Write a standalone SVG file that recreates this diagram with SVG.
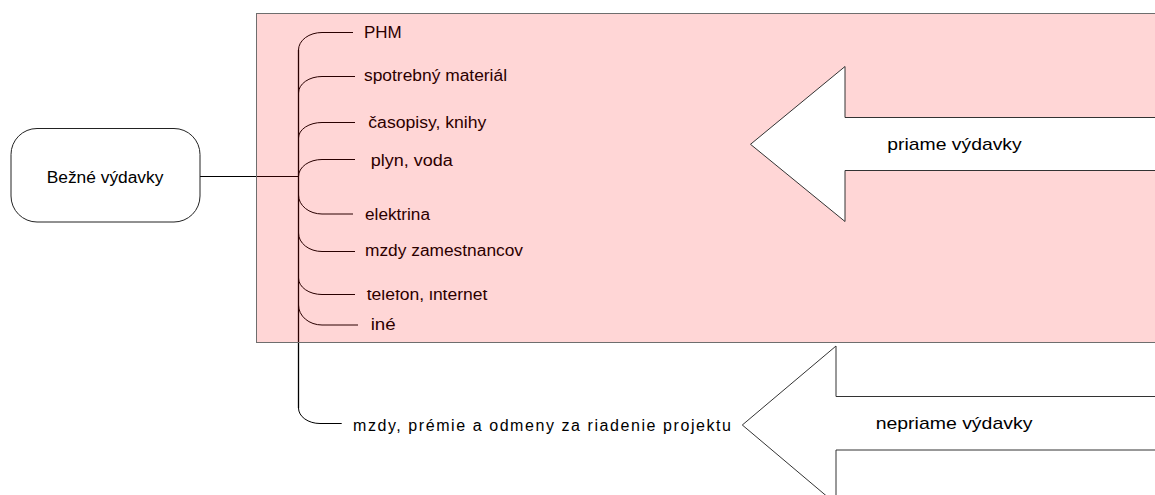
<svg xmlns="http://www.w3.org/2000/svg" width="1155" height="495" viewBox="0 0 1155 495">
  <style>
    .t { font-family: "Liberation Sans", Arial, sans-serif; font-size: 16px; fill: #000; }
    .ta { font-family: "Liberation Sans", Arial, sans-serif; font-size: 17px; fill: #000; }
    .c { fill: none; stroke: #000; stroke-width: 1; }
    .trunk { fill: none; stroke: #000; stroke-width: 1.3; }
    .arrow { fill: #fff; stroke: #333; stroke-width: 1; }
  </style>
  <defs>
    <clipPath id="clipTel">
      <rect x="360" y="290" width="140" height="20"/>
    </clipPath>
  </defs>
  <rect width="1155" height="495" fill="#fff"/>

  <g id="connectors">
    <line class="c" x1="200" y1="176.5" x2="298.5" y2="176.5"/>
    <line class="trunk" x1="298.5" y1="50" x2="298.5" y2="408"/>
    <path class="c" d="M298.5 50 A23.5 17.5 0 0 1 322 32.5 L353 32.5"/>
    <path class="c" d="M298.5 93 A23.5 16.5 0 0 1 322 76.5 L355 76.5"/>
    <path class="c" d="M298.5 138 A23.5 15.5 0 0 1 322 122.5 L355 122.5"/>
    <path class="c" d="M298.5 176.5 A23.5 17 0 0 1 322 159.5 L355 159.5"/>
    <path class="c" d="M298.5 195 A23.5 19 0 0 0 322 214 L353 214"/>
    <path class="c" d="M298.5 233 A23.5 18.5 0 0 0 322 251.5 L355 251.5"/>
    <path class="c" d="M298.5 278 A23.5 16.5 0 0 0 322 294.5 L355 294.5"/>
    <path class="c" d="M298.5 305 A23.5 20 0 0 0 322 325 L358 325"/>
    <path class="c" d="M298.5 408 A21.5 15.5 0 0 0 320 423.5 L341.7 423.5"/>
  </g>

  <g id="node-bezne">
    <rect x="11" y="128.5" width="189" height="93.5" rx="26" ry="26" fill="#fff" stroke="#222" stroke-width="1"/>
    <text class="t" x="46.7" y="182.7" textLength="116.7" lengthAdjust="spacingAndGlyphs">Bežné výdavky</text>
  </g>
  <g id="node-phm"><text class="t" x="364" y="37.7" textLength="37.7" lengthAdjust="spacingAndGlyphs">PHM</text></g>
  <g id="node-spotrebny"><text class="t" x="364" y="81.3" textLength="143" lengthAdjust="spacingAndGlyphs">spotrebný materiál</text></g>
  <g id="node-casopisy"><text class="t" x="368.3" y="128" textLength="118" lengthAdjust="spacingAndGlyphs">časopisy, knihy</text></g>
  <g id="node-plyn"><text class="t" x="370.7" y="165.7" textLength="82" lengthAdjust="spacingAndGlyphs">plyn, voda</text></g>
  <g id="node-elektrina"><text class="t" x="365" y="220" textLength="65" lengthAdjust="spacingAndGlyphs">elektrina</text></g>
  <g id="node-mzdy-zam"><text class="t" x="365" y="255.7" textLength="158" lengthAdjust="spacingAndGlyphs">mzdy zamestnancov</text></g>
  <g id="node-telefon"><text class="t" x="366.7" y="300" textLength="120.7" lengthAdjust="spacingAndGlyphs" clip-path="url(#clipTel)">telefón, internet</text></g>
  <g id="node-ine"><text class="t" x="370.7" y="330" textLength="25" lengthAdjust="spacingAndGlyphs">iné</text></g>
  <g id="node-mzdy-proj"><text class="t" x="353" y="431" textLength="378">mzdy, prémie a odmeny za riadenie projektu</text></g>

  <g id="region-priame">
    <rect x="256.5" y="13.5" width="910" height="329" fill="#ff0000" fill-opacity="0.16" stroke="#6e6e6e" stroke-width="1"/>
  </g>

  <g id="arrow-priame">
    <polygon class="arrow" points="1160,117.5 845,117.5 845,66.5 750.5,144.3 845,221.5 845,170.5 1160,170.5"/>
    <text class="ta" x="887.3" y="149.7" textLength="134.4" lengthAdjust="spacingAndGlyphs">priame výdavky</text>
  </g>
  <g id="arrow-nepriame">
    <polygon class="arrow" points="1160,396.5 836,396.5 836,346 742.3,425 836,504 836,450 1160,450"/>
    <text class="ta" x="875.7" y="429.3" textLength="156.7" lengthAdjust="spacingAndGlyphs">nepriame výdavky</text>
  </g>
</svg>
